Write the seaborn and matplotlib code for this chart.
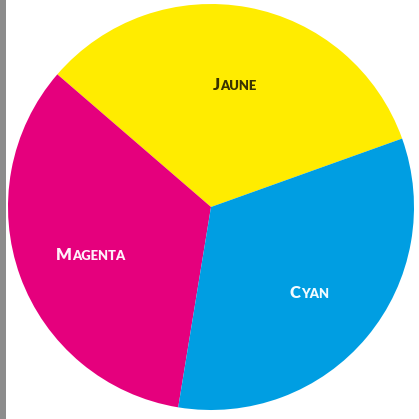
import numpy as np
import matplotlib
matplotlib.use("Agg")
import matplotlib.pyplot as plt
import seaborn as sns
from matplotlib.transforms import offset_copy
from matplotlib.patches import Rectangle

# slice data (degrees, roughly thirds)
labels = ['Jaune', 'Magenta', 'Cyan']
sizes = [119.5, 121.5, 119.0]
colors = ['#ffec00', '#e5007d', '#009ee2']
text_colors = ['#3a3300', '#fff0fa', '#f2fbff']

sns.set_style('white')
plt.rcParams['font.family'] = ['Lato', 'DejaVu Sans']

fig = plt.figure(figsize=(4.19, 4.19), dpi=100)
fig.patch.set_facecolor('white')

# grey strip on the left edge
fig.patches.append(Rectangle((0, 0), 6 / 419, 1, transform=fig.transFigure,
                             facecolor='#8c8c8c', edgecolor='none', zorder=0))

ax = fig.add_axes([8 / 419, 9 / 419, 406 / 419, 406 / 419])
wedges, _ = ax.pie(sizes, colors=colors, startangle=19.7, counterclock=True,
                   wedgeprops=dict(edgecolor='none', linewidth=0))
ax.set_xlim(-1, 1)
ax.set_ylim(-1, 1)
ax.set_aspect('equal')
ax.axis('off')

# small caps labels: big first letter + smaller rest
fig.canvas.draw()
rend = fig.canvas.get_renderer()
for w, lab, tc in zip(wedges, labels, text_colors):
    ang = np.deg2rad((w.theta1 + w.theta2) / 2)
    x, y = 0.63 * np.cos(ang), 0.63 * np.sin(ang)
    big = ax.text(x, y, lab[0].upper(), fontsize=12, fontweight='heavy',
                  color=tc, ha='left', va='baseline')
    small = ax.text(x, y, lab[1:].upper(), fontsize=9.4, fontweight='heavy',
                    color=tc, ha='left', va='baseline')
    wb = big.get_window_extent(rend).width
    ws = small.get_window_extent(rend).width
    left = -(wb + ws) / 2
    big.set_transform(offset_copy(ax.transData, fig, x=left, y=-9, units='dots'))
    small.set_transform(offset_copy(ax.transData, fig, x=left + wb + 0.5, y=-9, units='dots'))

fig.savefig('out.png', dpi=100)
